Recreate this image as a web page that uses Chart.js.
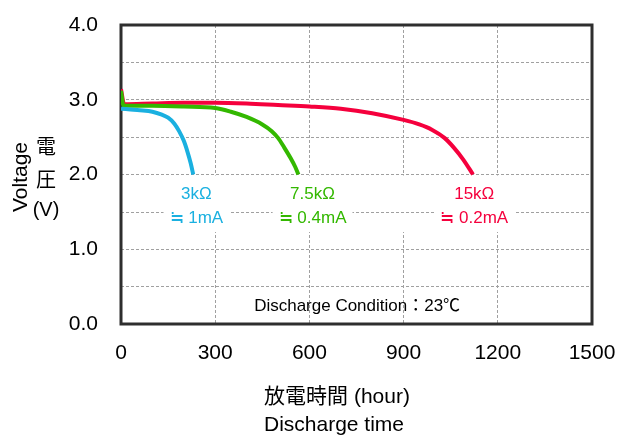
<!DOCTYPE html>
<html>
<head>
<meta charset="utf-8">
<script src="https://cdn.jsdelivr.net/npm/chart.js@4"></script>
<style>
html,body{margin:0;padding:0;background:#fff;}
#wrap{width:626px;height:442px;}
</style>
</head>
<body>
<div id="wrap"><canvas id="c" width="626" height="442"></canvas></div>
<script>
// Data
const hours3k  = [0, 30, 60, 100, 130, 150, 170, 185, 200, 212, 222, 230];
const volts3k  = [2.88, 2.87, 2.86, 2.84, 2.80, 2.76, 2.68, 2.58, 2.45, 2.30, 2.15, 2.00];
const hours75k = [0, 8, 100, 200, 300, 350, 400, 450, 480, 500, 520, 540, 555, 565];
const volts75k = [3.12, 2.92, 2.92, 2.91, 2.89, 2.84, 2.77, 2.67, 2.58, 2.49, 2.36, 2.22, 2.10, 2.00];
const hours15k = [0, 10, 100, 200, 300, 400, 500, 600, 700, 800, 900, 950, 990, 1030, 1060, 1090, 1121];
const volts15k = [3.14, 2.94, 2.95, 2.96, 2.96, 2.95, 2.93, 2.91, 2.88, 2.82, 2.73, 2.67, 2.60, 2.49, 2.36, 2.20, 2.00];
const xTicks = [0, 300, 600, 900, 1200, 1500];
const yTicks = [0, 1, 2, 3, 4];
const seriesNames = ['3kΩ', '7.5kΩ', '15kΩ'];
const seriesCurrents = ['≒ 1mA', '≒ 0.4mA', '≒ 0.2mA'];
const colors = ['#1ab0e0', '#33b800', '#f5003d'];

const toPts = (xs, ys) => xs.map((x, i) => ({x: x, y: ys[i]}));
const FONT = '"Liberation Sans", Arial, "Noto Sans CJK JP", sans-serif';

const overlay = {
  id: 'overlay',
  beforeDatasetsDraw(chart, args, opts) {
    const {ctx, chartArea: a, scales: {x, y}} = chart;
    ctx.save();
    // white band where vertical gridlines are interrupted
    const yb1 = y.getPixelForValue(2.0) + 1, yb2 = y.getPixelForValue(1.23);
    ctx.fillStyle = '#fff';
    ctx.fillRect(a.left, yb1, a.right - a.left, yb2 - yb1);
    // redraw 1.5 gridline
    ctx.strokeStyle = '#a0a0a0';
    ctx.lineWidth = 1;
    ctx.setLineDash([3, 2]);
    const y15 = Math.round(y.getPixelForValue(1.5)) + 0.5;
    ctx.beginPath(); ctx.moveTo(a.left, y15); ctx.lineTo(a.right, y15); ctx.stroke();
    ctx.setLineDash([]);
    // series labels with white boxes
    ctx.font = '17px ' + FONT;
    ctx.textAlign = 'center';
    ctx.textBaseline = 'middle';
    for (let i = 0; i < seriesNames.length; i++) {
      const cx = x.getPixelForValue(opts.labelX[i]);
      const w = Math.max(ctx.measureText(seriesNames[i]).width, ctx.measureText(seriesCurrents[i]).width) + 12;
      const ty1 = y.getPixelForValue(1.74), ty2 = y.getPixelForValue(1.41);
      ctx.fillStyle = '#fff';
      ctx.fillRect(cx - w / 2, y.getPixelForValue(1.9), w, y.getPixelForValue(1.25) - y.getPixelForValue(1.9));
      ctx.fillStyle = colors[i];
      ctx.fillText(seriesNames[i], cx, ty1);
      ctx.fillText(seriesCurrents[i], cx, ty2);
    }
    // condition text
    ctx.fillStyle = '#000';
    ctx.font = '17px ' + FONT;
    ctx.fillText('Discharge Condition：23℃', x.getPixelForValue(752), y.getPixelForValue(0.24));
    // frame
    ctx.strokeStyle = '#2e2e2e';
    ctx.lineWidth = 3;
    ctx.strokeRect(a.left, a.top, a.right - a.left, a.bottom - a.top);
    ctx.restore();
  },
  afterDraw(chart) {
    const {ctx} = chart;
    ctx.save();
    ctx.fillStyle = '#000';
    ctx.textAlign = 'center';
    ctx.textBaseline = 'middle';
    ctx.font = '21px ' + FONT;
    ctx.fillText('放電時間 (hour)', 337, 397);
    ctx.fillText('Discharge time', 334, 425);
    // y title
    ctx.save();
    ctx.translate(21, 177);
    ctx.rotate(-Math.PI / 2);
    ctx.fillText('Voltage', 0, 0);
    ctx.restore();
    ctx.font = '20px ' + FONT;
    ctx.fillText('電', 46, 148);
    ctx.fillText('圧', 46, 181);
    ctx.fillText('(V)', 46, 210);
    ctx.restore();
  }
};

new Chart(document.getElementById('c'), {
  type: 'line',
  data: {
    datasets: [
      {data: toPts(hours3k, volts3k), borderColor: colors[0]},
      {data: toPts(hours75k, volts75k), borderColor: colors[1]},
      {data: toPts(hours15k, volts15k), borderColor: colors[2]}
    ].map(d => Object.assign(d, {borderWidth: 4, pointRadius: 0, cubicInterpolationMode: 'monotone', fill: false}))
  },
  options: {
    responsive: false,
    animation: false,
    events: [],
    layout: {padding: {top: 25, right: 34, left: 0, bottom: 0}},
    plugins: {legend: {display: false}, tooltip: {enabled: false}, overlay: {labelX: [240, 610, 1125]}},
    scales: {
      x: {
        type: 'linear', min: 0, max: 1500,
        afterBuildTicks: s => { s.ticks = xTicks.map(v => ({value: v})); },
        ticks: {color: '#000', font: {size: 21, family: FONT}, padding: 17, maxRotation: 0,
          callback: v => String(v)},
        grid: {color: '#a0a0a0', lineWidth: 1, drawTicks: false},
        border: {display: false, dash: [3, 2]},
        afterFit: s => { s.height = 118; s.paddingLeft = 6; s.paddingRight = 20; }
      },
      y: {
        type: 'linear', min: 0, max: 4,
        ticks: {stepSize: 0.5, color: '#000', font: {size: 21, family: FONT}, padding: 23,
          callback: v => yTicks.includes(v) ? v.toFixed(1) : ''},
        grid: {color: '#a0a0a0', lineWidth: 1, drawTicks: false},
        border: {display: false, dash: [3, 2]},
        afterFit: s => { s.width = 121; s.paddingTop = 10; s.paddingBottom = 10; }
      }
    }
  },
  plugins: [overlay]
});
</script>
</body>
</html>
